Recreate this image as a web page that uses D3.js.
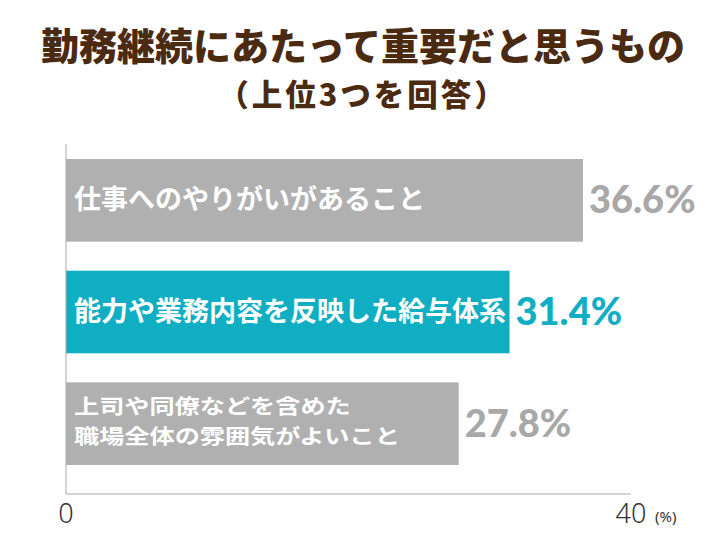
<!DOCTYPE html>
<html>
<head>
<meta charset="utf-8">
<script src="https://cdn.jsdelivr.net/npm/d3@7"></script>
<style>
  body { margin: 0; background: #fff; }
  svg { display: block; font-family: "Noto Sans CJK JP", "Noto Sans", sans-serif; }
</style>
</head>
<body>
<svg id="chart" width="726" height="545"></svg>
<script>
const categories = [
  ["仕事へのやりがいがあること"],
  ["能力や業務内容を反映した給与体系"],
  ["上司や同僚などを含めた", "職場全体の雰囲気がよいこと"]
];
const values = [36.6, 31.4, 27.8];
const highlight = [false, true, false];
const tickValues = [0, 40];

const width = 726;
const height = 545;
const lineGap = 30.2;

const svg = d3.select("#chart");

const x = d3.scaleLinear()
    .domain([0, 40])
    .range([66, 631]);

const y = d3.scaleBand()
    .domain(d3.range(values.length))
    .range([130, 494])
    .paddingInner(0.26)
    .paddingOuter(0.26);

// title
svg.append("text")
    .attr("x", width / 2)
    .attr("y", 59.5)
    .attr("text-anchor", "middle")
    .attr("fill", "#4b2a12")
    .attr("font-size", 38)
    .attr("font-weight", 900)
    .text("勤務継続にあたって重要だと思うもの");

svg.append("text")
    .attr("x", width / 2)
    .attr("y", 106)
    .attr("text-anchor", "middle")
    .attr("fill", "#4b2a12")
    .attr("font-size", 30.5)
    .attr("font-weight", 900)
    .attr("letter-spacing", 3)
    .text("（上位3つを回答）");

// bars
const bars = svg.append("g")
  .selectAll("g")
  .data(values)
  .join("g");

bars.append("rect")
    .attr("x", x(0))
    .attr("y", (d, i) => y(i))
    .attr("width", d => x(d) - x(0))
    .attr("height", y.bandwidth())
    .attr("fill", (d, i) => highlight[i] ? "#10aec3" : "#b0b0b0");

// two-line label uses a smaller font stretched sideways, so the lines fit the bar
bars.append("text")
    .attr("transform", (d, i) => {
      const sx = categories[i].length > 1 ? 1.21 : 1;
      return `translate(${x(0) + 8},${y(i) + y.bandwidth() / 2}) scale(${sx},1)`;
    })
    .attr("fill", "#fff")
    .attr("font-size", (d, i) => categories[i].length > 1 ? 20.8 : 27)
    .attr("font-weight", 700)
  .selectAll("tspan")
  .data((d, i) => categories[i].map((t, j, arr) => ({t: t, j: j, n: arr.length})))
  .join("tspan")
    .attr("x", 0)
    .attr("y", d => d.n > 1 ? (d.j - (d.n - 1) / 2) * lineGap + 5.5 : 9)
    .text(d => d.t);

bars.append("text")
    .attr("x", d => x(d) + 6)
    .attr("y", (d, i) => y(i) + y.bandwidth() / 2 + 13)
    .attr("fill", (d, i) => highlight[i] ? "#10aec3" : "#a8a8a8")
    .attr("font-family", "Lato, 'Noto Sans', sans-serif")
    .attr("font-size", 38)
    .attr("font-weight", 900)
    .text(d => d.toFixed(1) + "%");

// axes
svg.append("line")
    .attr("x1", x(0)).attr("x2", x(0))
    .attr("y1", 144).attr("y2", 494)
    .attr("stroke", "#aaa")
    .attr("stroke-width", 1);

svg.append("line")
    .attr("x1", x(0)).attr("x2", x(40))
    .attr("y1", 494).attr("y2", 494)
    .attr("stroke", "#aaa")
    .attr("stroke-width", 1);

svg.append("g")
  .selectAll("text")
  .data(tickValues)
  .join("text")
    .attr("x", d => x(d))
    .attr("y", 523)
    .attr("text-anchor", "middle")
    .attr("fill", "#333")
    .attr("font-family", "'Noto Sans', sans-serif")
    .attr("font-size", 27)
    .attr("font-weight", 300)
    .text(d => d);

svg.append("text")
    .attr("x", 655)
    .attr("y", 522)
    .attr("fill", "#333")
    .attr("font-family", "'Noto Sans', sans-serif")
    .attr("font-size", 15)
    .text("(%)");
</script>
</body>
</html>
